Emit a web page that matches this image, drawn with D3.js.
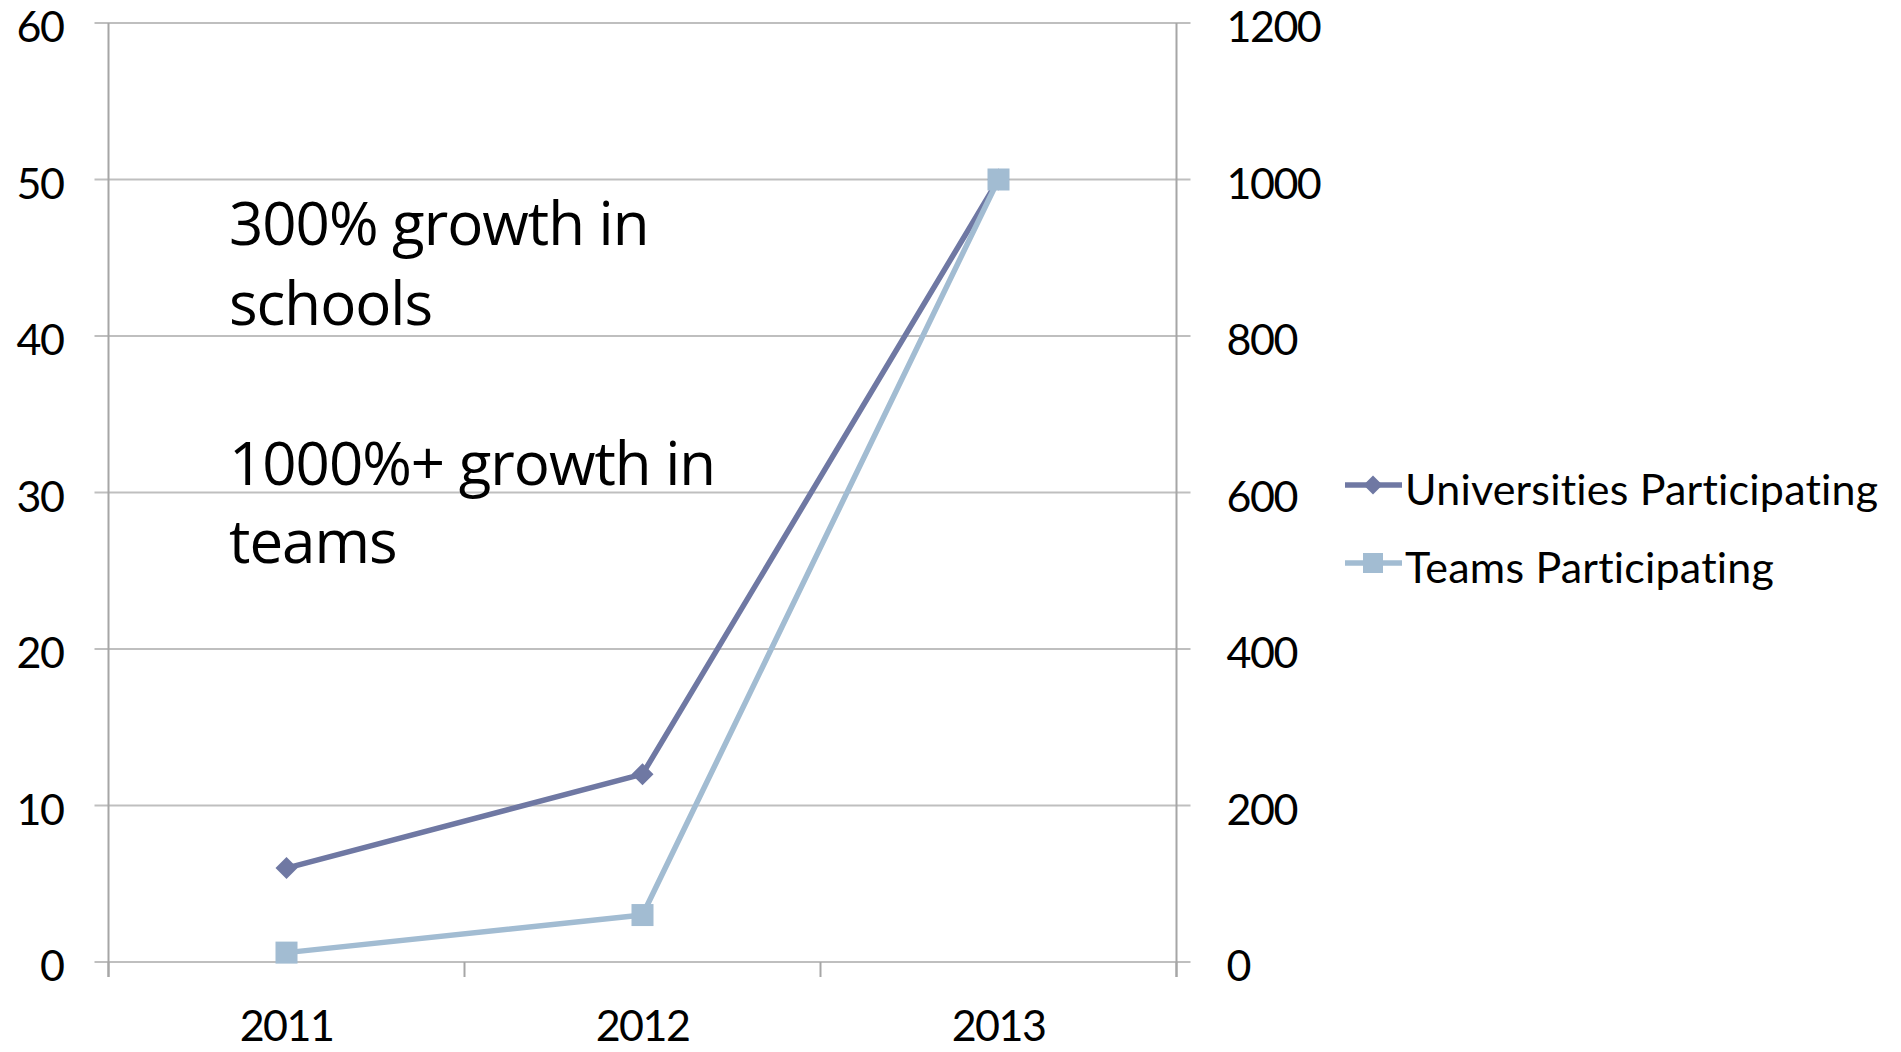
<!DOCTYPE html>
<html>
<head>
<meta charset="utf-8">
<script src="https://cdn.jsdelivr.net/npm/d3@7"></script>
<style>
  html, body { margin: 0; padding: 0; background: #ffffff; }
  svg { display: block; }
</style>
</head>
<body>
<svg id="chart" width="1901" height="1052"></svg>
<script>
// Participation by year: universities on the left axis, teams on the right axis
const years = ["2011", "2012", "2013"];
const universities = [6, 12, 50];
const teams = [12, 60, 1000];
const leftTicks = [0, 10, 20, 30, 40, 50, 60];
const rightTicks = [0, 200, 400, 600, 800, 1000, 1200];
const seriesNames = ["Universities Participating", "Teams Participating"];
const notes = [["300% growth in", "schools"], ["1000%+ growth in", "teams"]];

const colUni = "#6f78a3";
const colTeams = "#a2bcd2";
const gridCol = "#bfbfbf";
const axisCol = "#a6a6a6";
const tickFont = "Lato, 'DejaVu Sans', sans-serif";

const svg = d3.select("#chart");

const plotLeft = 108.5, plotRight = 1176.5, plotTop = 23, plotBottom = 962;

const x = d3.scaleBand().domain(years).range([plotLeft, plotRight]).padding(0);
const yL = d3.scaleLinear().domain([0, 60]).range([plotBottom, plotTop]);
const yR = d3.scaleLinear().domain([0, 1200]).range([plotBottom, plotTop]);

// horizontal gridlines, extending past both axes as tick marks
svg.append("g").selectAll("line").data(leftTicks).join("line")
  .attr("x1", plotLeft - 14).attr("x2", plotRight + 14)
  .attr("y1", d => yL(d)).attr("y2", d => yL(d))
  .attr("stroke", gridCol).attr("stroke-width", 2.2);

// vertical axis lines
[plotLeft, plotRight].forEach(px => {
  svg.append("line")
    .attr("x1", px).attr("x2", px)
    .attr("y1", plotTop).attr("y2", plotBottom + 15)
    .attr("stroke", axisCol).attr("stroke-width", 2);
});

// category boundary ticks below the baseline
const bounds = years.map(y => x(y)).concat([x(years[years.length - 1]) + x.bandwidth()]);
svg.append("g").selectAll("line").data(bounds).join("line")
  .attr("x1", d => d).attr("x2", d => d)
  .attr("y1", plotBottom).attr("y2", plotBottom + 15)
  .attr("stroke", axisCol).attr("stroke-width", 2);

// left axis labels
const axL = svg.append("g").attr("transform", `translate(${plotLeft},0)`)
  .call(d3.axisLeft(yL).tickValues(leftTicks).tickSize(0).tickPadding(45).tickFormat(d3.format("d")));
// right axis labels
const axR = svg.append("g").attr("transform", `translate(${plotRight},0)`)
  .call(d3.axisRight(yR).tickValues(rightTicks).tickSize(0).tickPadding(50).tickFormat(d3.format("d")));
// bottom labels
const axB = svg.append("g").attr("transform", `translate(0,${plotBottom})`)
  .call(d3.axisBottom(x).tickSize(0).tickPadding(48));

[axL, axR, axB].forEach(g => {
  g.select(".domain").remove();
  g.selectAll("text")
    .attr("fill", "#000")
    .style("font-family", tickFont)
    .style("font-size", "43px")
    .style("letter-spacing", "-1.5px");
});
axL.selectAll("text").attr("dy", "0.43em");
axR.selectAll("text").attr("dy", "0.43em");
axB.selectAll("text").attr("dy", "0.72em");

// series lines and markers
const lineU = d3.line().x((d, i) => x(years[i]) + x.bandwidth() / 2).y(d => yL(d));
const lineT = d3.line().x((d, i) => x(years[i]) + x.bandwidth() / 2).y(d => yR(d));

svg.append("path").datum(universities).attr("d", lineU)
  .attr("fill", "none").attr("stroke", colUni).attr("stroke-width", 5.5).attr("stroke-linejoin", "round");
svg.append("g").selectAll("path").data(universities).join("path")
  .attr("transform", (d, i) => `translate(${x(years[i]) + x.bandwidth() / 2},${yL(d)})`)
  .attr("d", "M0,-11L11,0L0,11L-11,0Z")
  .attr("fill", colUni);

svg.append("path").datum(teams).attr("d", lineT)
  .attr("fill", "none").attr("stroke", colTeams).attr("stroke-width", 5.5).attr("stroke-linejoin", "round");
svg.append("g").selectAll("rect").data(teams).join("rect")
  .attr("x", (d, i) => x(years[i]) + x.bandwidth() / 2 - 11)
  .attr("y", d => yR(d) - 11)
  .attr("width", 22).attr("height", 22)
  .attr("fill", colTeams);

// annotation text
const noteY = [[245, 325], [485, 563]];
notes.forEach((block, b) => {
  block.forEach((t, k) => {
    svg.append("text")
      .attr("x", 229).attr("y", noteY[b][k])
      .attr("fill", "#000")
      .style("font-family", "'Open Sans', sans-serif")
      .style("font-size", "60px")
      .style("letter-spacing", "-1px")
      .text(t);
  });
});

// legend
const legendRows = [485, 563];
seriesNames.forEach((name, i) => {
  const g = svg.append("g");
  const c = i === 0 ? colUni : colTeams;
  g.append("line").attr("x1", 1345).attr("x2", 1402)
    .attr("y1", legendRows[i]).attr("y2", legendRows[i])
    .attr("stroke", c).attr("stroke-width", 5.5);
  if (i === 0) {
    g.append("path").attr("transform", `translate(1373,${legendRows[i]})`)
      .attr("d", "M0,-9.5L9.5,0L0,9.5L-9.5,0Z").attr("fill", c);
  } else {
    g.append("rect").attr("x", 1363).attr("y", legendRows[i] - 10)
      .attr("width", 20).attr("height", 20).attr("fill", c);
  }
  g.append("text").attr("x", 1405).attr("y", legendRows[i] + 20)
    .attr("fill", "#000")
    .style("font-family", tickFont)
    .style("font-size", "43px")
    .style("letter-spacing", "0.2px")
    .text(name);
});
</script>
</body>
</html>
